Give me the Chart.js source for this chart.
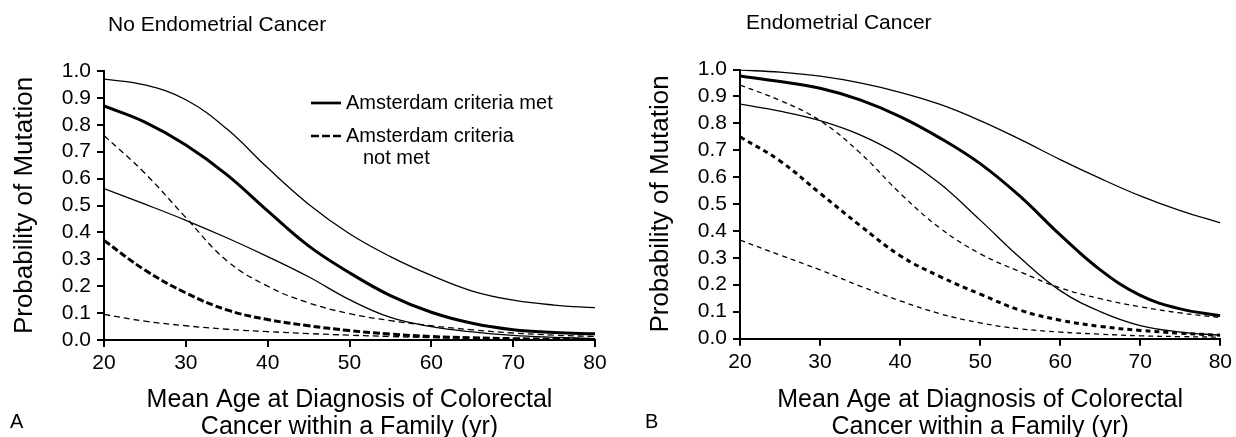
<!DOCTYPE html>
<html><head><meta charset="utf-8">
<script src="https://cdn.jsdelivr.net/npm/chart.js@4/dist/chart.umd.min.js"></script>
<style>
html,body{margin:0;padding:0;background:#fff;}
#wrap{position:relative;width:1236px;height:437px;overflow:hidden;background:#fff;}
canvas{position:absolute;top:0;}
</style></head><body>
<div id="wrap">
<canvas id="cA" width="618" height="437" style="left:0"></canvas>
<canvas id="cB" width="618" height="437" style="left:618px"></canvas>
</div>
<script>
// ---- data ----
const ages = [20,25,30,35,40,45,50,55,60,65,70,75,80];
const xTickValues = [20,30,40,50,60,70,80];
const yTickValues = [0,0.1,0.2,0.3,0.4,0.5,0.6,0.7,0.8,0.9,1.0];

// Panel A: No Endometrial Cancer
const aMet      = [0.870,0.810,0.725,0.615,0.480,0.350,0.250,0.165,0.103,0.062,0.038,0.028,0.023];
const aMetHigh  = [0.970,0.948,0.893,0.785,0.640,0.505,0.395,0.310,0.240,0.182,0.148,0.130,0.120];
const aMetLow   = [0.563,0.505,0.445,0.380,0.310,0.235,0.150,0.084,0.050,0.030,0.017,0.010,0.005];
const aNot      = [0.370,0.260,0.175,0.112,0.076,0.053,0.035,0.022,0.013,0.008,0.005,0.003,0.002];
const aNotHigh  = [0.760,0.620,0.455,0.295,0.200,0.138,0.098,0.072,0.053,0.038,0.026,0.018,0.013];
const aNotLow   = [0.095,0.070,0.053,0.040,0.031,0.024,0.018,0.013,0.009,0.007,0.005,0.004,0.003];

// Panel B: Endometrial Cancer
const bMet      = [0.976,0.955,0.930,0.887,0.825,0.745,0.650,0.528,0.385,0.255,0.160,0.110,0.085];
const bMetHigh  = [0.998,0.990,0.975,0.950,0.915,0.870,0.810,0.740,0.665,0.595,0.530,0.475,0.430];
const bMetLow   = [0.871,0.845,0.810,0.757,0.680,0.575,0.440,0.300,0.178,0.100,0.048,0.024,0.012];
const bNot      = [0.750,0.660,0.540,0.420,0.308,0.230,0.165,0.105,0.068,0.045,0.030,0.020,0.012];
const bNotHigh  = [0.942,0.885,0.810,0.690,0.540,0.410,0.315,0.248,0.188,0.148,0.118,0.095,0.078];
const bNotLow   = [0.366,0.310,0.255,0.195,0.140,0.092,0.058,0.036,0.024,0.016,0.010,0.007,0.005];

// ---- text ----
const titleA = 'No Endometrial Cancer';
const titleB = 'Endometrial Cancer';
const yTitle = 'Probability of Mutation';
const xTitle = ['Mean Age at Diagnosis of Colorectal','Cancer within a Family (yr)'];
const legendMet = 'Amsterdam criteria met';
const legendNot = ['Amsterdam criteria','not met'];

const FAM = '"Liberation Sans", Arial, Helvetica, sans-serif';
Chart.defaults.font.family = FAM;
Chart.defaults.color = '#000';

function pts(vals){ return ages.map((a,i)=>({x:a, y:vals[i]})); }
function ds(vals, width, dash){
  return {data: pts(vals), borderColor:'#000', borderWidth:width, borderDash:dash,
          pointRadius:0, fill:false, tension:0.4, borderCapStyle:'butt'};
}

const TICK_LEN = 7;

const annot = {
  id:'annot',
  afterDraw(chart, args, o){
    const ctx = chart.ctx;
    const ca = chart.chartArea;
    const xs = chart.scales.x, ys = chart.scales.y;
    ctx.save();
    // tick marks from the library's scales
    ctx.strokeStyle = '#000';
    ctx.lineWidth = 2;
    ctx.setLineDash([]);
    ctx.beginPath();
    xs.ticks.forEach(t => {
      const px = Math.round(xs.getPixelForValue(t.value));
      ctx.moveTo(px, ca.bottom); ctx.lineTo(px, ca.bottom + TICK_LEN);
    });
    ys.ticks.forEach(t => {
      const py = Math.round(ys.getPixelForValue(t.value));
      ctx.moveTo(ca.left, py); ctx.lineTo(ca.left - TICK_LEN, py);
    });
    ctx.stroke();

    ctx.fillStyle = '#000';
    ctx.textAlign = 'left';
    ctx.textBaseline = 'alphabetic';
    ctx.font = '21px ' + FAM;
    ctx.fillText(o.title, o.titleX, o.titleY);
    ctx.font = '20px ' + FAM;
    ctx.fillText(o.panel, o.panelX, o.panelY);
    if (o.legend){
      const L = o.legend;
      ctx.lineWidth = 2.7;
      ctx.setLineDash([]);
      ctx.beginPath(); ctx.moveTo(L.x, L.y1); ctx.lineTo(L.x+L.len, L.y1); ctx.stroke();
      ctx.setLineDash([8,3]);
      ctx.beginPath(); ctx.moveTo(L.x, L.y2); ctx.lineTo(L.x+L.len, L.y2); ctx.stroke();
      ctx.setLineDash([]);
      ctx.font = '20px ' + FAM;
      ctx.textBaseline = 'middle';
      ctx.fillText(legendMet, L.tx, L.y1);
      ctx.fillText(legendNot[0], L.tx, L.y2);
      ctx.fillText(legendNot[1], L.tx2, L.y3);
    }
    ctx.restore();
  }
};

const gridOpts = {display:true, drawOnChartArea:false, drawTicks:true, tickLength:TICK_LEN,
                  color:'#000', lineWidth:2, tickColor:'#000', tickWidth:2};

function makeChart(id, series, dashThin, dashThick, geo, annotOpts){
  const datasets = [
    ds(series[1], 1.3, []), ds(series[2], 1.3, []),
    ds(series[4], 1.3, dashThin), ds(series[5], 1.3, dashThin),
    ds(series[3], 3, dashThick), ds(series[0], 3, [])
  ];
  return new Chart(document.getElementById(id), {
    type:'line',
    data:{datasets},
    plugins:[annot],
    options:{
      responsive:false, animation:false, devicePixelRatio:1,
      layout:{padding:{left:0, right:geo.right, top:geo.top, bottom:0}},
      plugins:{legend:{display:false}, tooltip:{enabled:false}, title:{display:false}, annot:annotOpts},
      scales:{
        x:{type:'linear', min:20, max:80,
           afterBuildTicks:s=>{ s.ticks = xTickValues.map(v=>({value:v})); },
           afterFit:s=>{ s.height = geo.xh; },
           ticks:{font:{size:21}, color:'#000', padding:4, autoSkip:false, maxRotation:0},
           grid:gridOpts,
           border:{display:true, color:'#000', width:2},
           title:{display:true, text:xTitle, font:{size:25, lineHeight:1.1}, color:'#000', padding:{top:0,bottom:-4}}
        },
        y:{type:'linear', min:0, max:1,
           afterBuildTicks:s=>{ s.ticks = yTickValues.map(v=>({value:v})); },
           afterFit:s=>{ s.width = geo.yw; },
           ticks:{font:{size:21}, color:'#000', padding:6, autoSkip:false, callback:v=>Number(v).toFixed(1)},
           grid:gridOpts,
           border:{display:true, color:'#000', width:2},
           title:{display:true, text:yTitle, font:{size:26}, color:'#000', padding:{top:geo.ytp, bottom:0}}
        }
      }
    }
  });
}

makeChart('cA', [aMet,aMetHigh,aMetLow,aNot,aNotHigh,aNotLow], [6,4], [7,3],
  {right:23, top:71, xh:97, yw:104, ytp:9},
  {title:titleA, titleX:108, titleY:31, panel:'A', panelX:10, panelY:428,
   legend:{x:311, len:30, y1:103, y2:136, y3:158, tx:346, tx2:363}});

makeChart('cB', [bMet,bMetHigh,bMetLow,bNot,bNotHigh,bNotLow], [5,4], [5,4],
  {right:13, top:69.5, xh:98.5, yw:122, ytp:27},
  {title:titleB, titleX:128, titleY:29, panel:'B', panelX:27, panelY:428});
</script>
</body></html>
